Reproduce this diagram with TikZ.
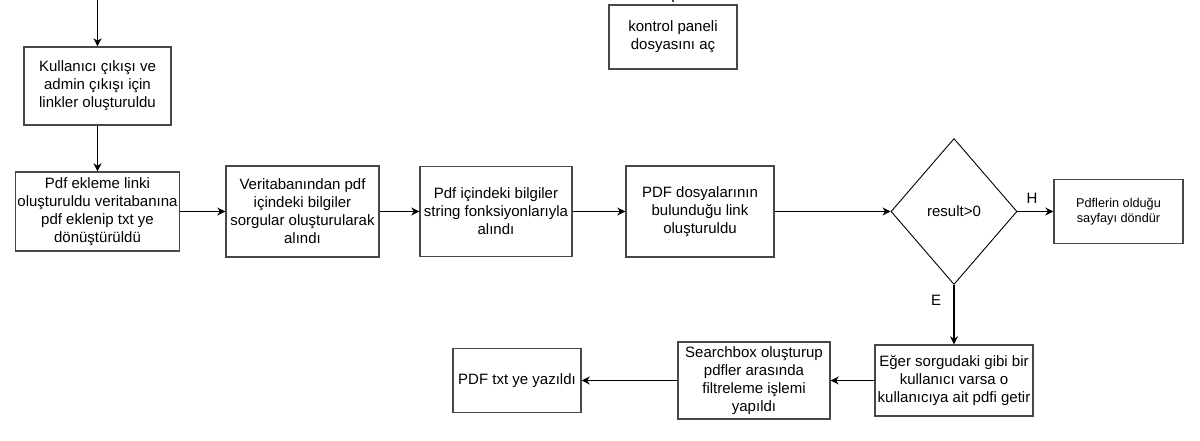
\documentclass[tikz,border=0pt]{standalone}
\usepackage{fontspec}
\setmainfont{Liberation Sans}
\usetikzlibrary{shapes.geometric,arrows.meta}
\begin{document}
\begin{tikzpicture}[x=1pt,y=-1pt,
  box/.style={draw=black!72,line width=1.4pt,fill=white,align=center,inner sep=2pt,font=\fontsize{15}{18}\selectfont},
  smallbox/.style={box,font=\fontsize{12.7}{15}\selectfont},
  decision/.style={diamond,draw=black,line width=0.9pt,inner sep=0pt,align=center,font=\fontsize{15}{18}\selectfont},
  arr/.style={draw=black,line width=1.2pt,-{Stealth[length=8pt,width=8pt,inset=2.5pt]}},
  lbl/.style={font=\fontsize{15}{18}\selectfont,inner sep=0pt}]
\useasboundingbox[fill=white] (0,0) rectangle (1200,440);

\node[box,minimum width=147pt,minimum height=78pt] (a) at (97.5,86) {Kullanıcı çıkışı ve\\admin çıkışı için\\linkler oluşturuldu};
\node[box,minimum width=161pt,minimum height=79pt] (b) at (97.5,211.5) {Pdf ekleme linki\\oluşturuldu veritabanına\\pdf eklenip txt ye\\dönüştürüldü};
\node[box,minimum width=153pt,minimum height=91pt] (c) at (302.5,211.5) {Veritabanından pdf\\içindeki bilgiler\\sorgular oluşturularak\\alındı};
\node[box,minimum width=152pt,minimum height=90pt] (d) at (496,211.5) {Pdf içindeki bilgiler\\string fonksiyonlarıyla\\alındı};
\node[box,minimum width=148pt,minimum height=91pt] (e) at (700,211.5) {PDF dosyalarının\\bulunduğu link\\oluşturuldu};
\node[decision,minimum width=126pt,minimum height=146pt] (dia) at (954,211.5) {result>0};
\node[smallbox,minimum width=129pt,minimum height=64pt] (h) at (1118.5,211.5) {Pdflerin olduğu\\sayfayı döndür};
\node[box,minimum width=158pt,minimum height=71pt] (f) at (954,380.5) {Eğer sorgudaki gibi bir\\kullanıcı varsa o\\kullanıcıya ait pdfi getir};
\node[box,minimum width=152pt,minimum height=77pt] (g) at (754,380.5) {Searchbox oluşturup\\pdfler arasında\\filtreleme işlemi\\yapıldı};
\node[box,minimum width=128pt,minimum height=64pt] (i) at (517,380.5) {PDF txt ye yazıldı};
\node[box,minimum width=128pt,minimum height=64pt] (k) at (673,37) {kontrol paneli\\dosyasını aç};

\coordinate (top) at (97.5,0);
\coordinate (ktop) at (673,0);
\coordinate (ktick) at (673,2);
\draw[black!72,line width=1.2pt] (ktop) -- (ktick);

\draw[arr] (top) -- (a);
\draw[arr] (a) -- (b);
\draw[arr] (b) -- (c);
\draw[arr] (c) -- (d);
\draw[arr] (d) -- (e);
\draw[arr] (e) -- (dia);
\draw[arr] (dia) -- (h);
\draw[arr] (dia) -- (f);
\draw[arr] (f) -- (g);
\draw[arr] (g) -- (i);

\node[lbl] (lh) at (1032,198) {H};
\node[lbl] (le) at (936,300) {E};
\end{tikzpicture}
\end{document}
